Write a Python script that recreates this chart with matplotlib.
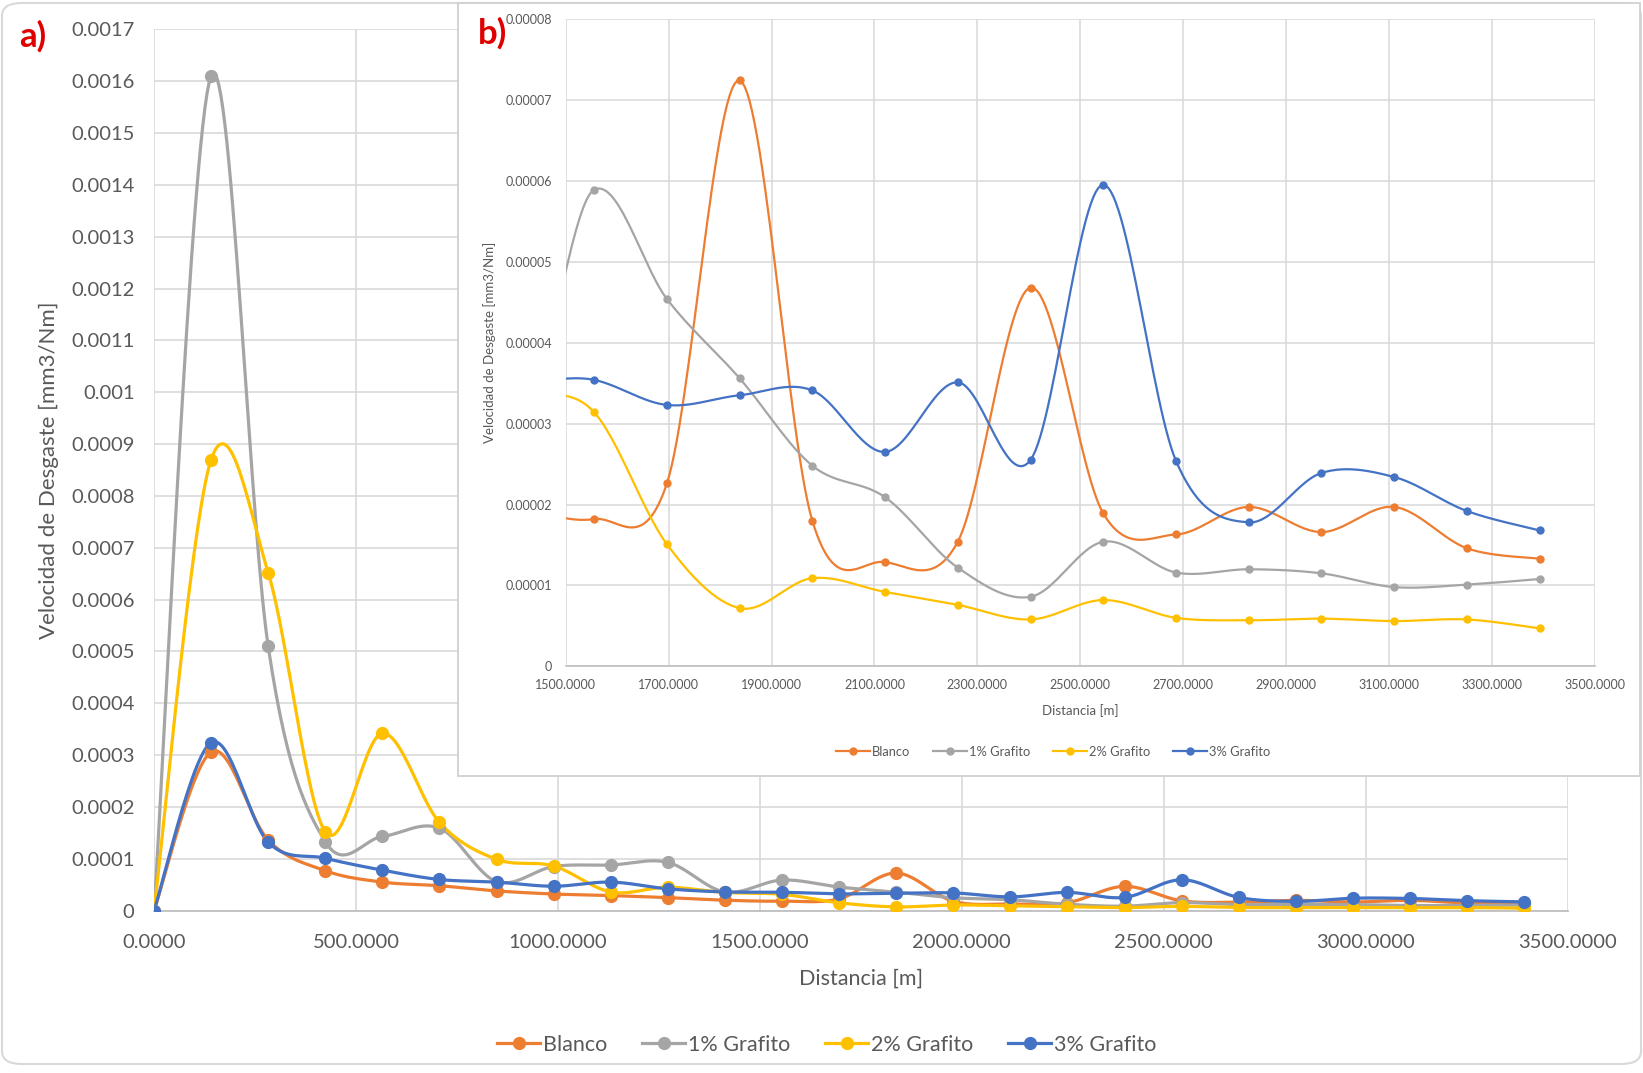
import numpy as np
import matplotlib
matplotlib.use("Agg")
import matplotlib.pyplot as plt
from matplotlib.lines import Line2D
from matplotlib.patches import FancyBboxPatch, Rectangle

plt.rcParams['font.family'] = ['Lato', 'DejaVu Sans']

# distance travelled at each measurement [m]
distancia = [0.0, 141.4, 282.7, 424.1, 565.5, 706.9, 848.2, 989.6, 1131.0,
             1272.3, 1413.7, 1555.1, 1696.5, 1837.8, 1979.2, 2120.6, 2261.9,
             2403.3, 2544.7, 2686.1, 2827.4, 2968.8, 3110.2, 3251.5, 3392.9]

# wear rate [mm3/Nm]
blanco = [0, 3.06e-4, 1.36e-4, 0.77e-4, 0.55e-4, 0.48e-4, 0.38e-4, 0.32e-4,
          0.29e-4, 0.25e-4, 0.20e-4, 1.82e-5, 2.26e-5, 7.24e-5, 1.80e-5,
          1.29e-5, 1.54e-5, 4.68e-5, 1.89e-5, 1.63e-5, 1.97e-5, 1.66e-5,
          1.97e-5, 1.46e-5, 1.33e-5]
grafito1 = [0, 1.61e-3, 5.10e-4, 1.33e-4, 1.43e-4, 1.59e-4, 0.56e-4, 0.85e-4,
            0.88e-4, 0.93e-4, 0.36e-4, 5.89e-5, 4.54e-5, 3.56e-5, 2.48e-5,
            2.09e-5, 1.22e-5, 0.86e-5, 1.54e-5, 1.16e-5, 1.20e-5, 1.15e-5,
            0.98e-5, 1.01e-5, 1.08e-5]
grafito2 = [0, 8.70e-4, 6.52e-4, 1.52e-4, 3.42e-4, 1.70e-4, 0.99e-4, 0.86e-4,
            0.36e-4, 0.45e-4, 0.35e-4, 3.14e-5, 1.51e-5, 0.72e-5, 1.09e-5,
            0.92e-5, 0.76e-5, 0.58e-5, 0.82e-5, 0.60e-5, 0.57e-5, 0.59e-5,
            0.56e-5, 0.58e-5, 0.47e-5]
grafito3 = [0, 3.24e-4, 1.32e-4, 1.01e-4, 0.78e-4, 0.60e-4, 0.55e-4, 0.47e-4,
            0.55e-4, 0.42e-4, 0.36e-4, 3.54e-5, 3.23e-5, 3.35e-5, 3.41e-5,
            2.65e-5, 3.51e-5, 2.55e-5, 5.95e-5, 2.54e-5, 1.78e-5, 2.39e-5,
            2.34e-5, 1.92e-5, 1.68e-5]

series = [("Blanco", blanco, "#ED7D31"),
          ("1% Grafito", grafito1, "#A5A5A5"),
          ("2% Grafito", grafito2, "#FFC000"),
          ("3% Grafito", grafito3, "#4472C4")]

TXT = "#595959"
GRID = "#d9d9d9"


def smooth(xs, ys, n=30):
    # Catmull-Rom style bezier through every point (like excel smoothed lines)
    xs = np.asarray(xs, float)
    ys = np.asarray(ys, float)
    px = np.concatenate([[xs[0]], xs, [xs[-1]]])
    py = np.concatenate([[ys[0]], ys, [ys[-1]]])
    t = np.linspace(0, 1, n)
    out_x, out_y = [], []
    for i in range(1, len(px) - 2):
        p0x, p1x, p2x, p3x = px[i - 1], px[i], px[i + 1], px[i + 2]
        p0y, p1y, p2y, p3y = py[i - 1], py[i], py[i + 1], py[i + 2]
        c1x, c1y = p1x + (p2x - p0x) / 6, p1y + (p2y - p0y) / 6
        c2x, c2y = p2x - (p3x - p1x) / 6, p2y - (p3y - p1y) / 6
        bx = (1-t)**3*p1x + 3*(1-t)**2*t*c1x + 3*(1-t)*t**2*c2x + t**3*p2x
        by = (1-t)**3*p1y + 3*(1-t)**2*t*c1y + 3*(1-t)*t**2*c2y + t**3*p2y
        out_x.append(bx)
        out_y.append(by)
    return np.concatenate(out_x), np.concatenate(out_y)


def general(v, dec):
    s = f"{v:.{dec}f}".rstrip('0').rstrip('.')
    return s if s else "0"


fig = plt.figure(figsize=(16.43, 10.73), dpi=100)
W, H = 1643, 1073

# ---- a) full test ----
ax = fig.add_axes([154 / W, 1 - 910.6 / H, 1413.5 / W, 881.3 / H])
for name, vals, col in series:
    sx, sy = smooth(distancia, vals)
    ax.plot(sx, sy, color=col, lw=2.3, solid_capstyle='round', zorder=3)
    ax.plot(distancia, vals, 'o', color=col, ms=8.5, zorder=4)

ax.set_xlim(0, 3500)
ax.set_ylim(0, 0.0017)
ax.set_xticks(np.arange(0, 3501, 500))
ax.set_yticks(np.arange(0, 0.00171, 0.0001))
ax.set_xticklabels([f"{v:.4f}" for v in ax.get_xticks()])
ax.set_yticklabels([general(v, 4) for v in ax.get_yticks()])
ax.tick_params(length=0, labelsize=14.5, colors=TXT)
ax.tick_params(axis='y', pad=14)
ax.tick_params(axis='x', pad=17)
ax.grid(True, color=GRID, lw=1.2)
ax.set_axisbelow(True)
for s in ['top', 'right', 'left']:
    ax.spines[s].set_visible(False)
ax.spines['bottom'].set_color("#bfbfbf")
ax.spines['bottom'].set_linewidth(1.3)
ax.set_xlabel("Distancia [m]", fontsize=15.5, color=TXT)
ax.set_ylabel("Velocidad de Desgaste [mm3/Nm]", fontsize=16, color=TXT)
ax.xaxis.set_label_coords(0.5, -0.0663)
ax.yaxis.set_label_coords(-0.0669, 0.5)
for t in ax.get_xticklabels() + ax.get_yticklabels():
    t.set_clip_on(False)

handles = [Line2D([], [], color=c, lw=2.3, marker='o', ms=8.5) for _, _, c in series]
fig.legend(handles, [s[0] for s in series], loc='center',
           bbox_to_anchor=(827 / W, 1 - 1044.6 / H), ncol=4, frameon=False,
           fontsize=15.5, labelcolor=TXT, handlelength=2.0,
           handletextpad=0.15, columnspacing=1.6)

fig.text(33 / W, 1 - 36 / H, "a)", color="#e00000", fontsize=25,
         fontweight='bold', ha='center', va='center')

# outer frame
fig.patches.append(FancyBboxPatch((2 / W, 1 - 1064 / H), 1639 / W, 1061 / H,
                                  boxstyle="round,pad=0,rounding_size=0.012",
                                  transform=fig.transFigure, fc='none',
                                  ec="#d9d9d9", lw=1.5, zorder=0.5))

# ---- b) zoom on the second half ----
fig.patches.append(Rectangle((458 / W, 1 - 776.4 / H), 1182 / W, 773.9 / H,
                             transform=fig.transFigure, fc='white',
                             ec="#d0d0d0", lw=1.3, zorder=1))

ax2 = fig.add_axes([565.8 / W, 1 - 666.4 / H, 1028.9 / W, 647.5 / H], zorder=2)
for name, vals, col in series:
    sx, sy = smooth(distancia, vals)
    ax2.plot(sx, sy, color=col, lw=1.6, zorder=3)
    ax2.plot(distancia, vals, 'o', color=col, ms=5, zorder=4)

ax2.set_xlim(1500, 3500)
ax2.set_ylim(0, 0.00008)
ax2.set_xticks(np.arange(1500, 3501, 200))
ax2.set_yticks(np.arange(0, 0.0000801, 0.00001))
ax2.set_xticklabels([f"{v:.4f}" for v in ax2.get_xticks()])
ax2.set_yticklabels([general(v, 5) for v in ax2.get_yticks()])
ax2.tick_params(length=0, labelsize=9, colors=TXT)
ax2.tick_params(axis='y', pad=10)
ax2.tick_params(axis='x', pad=9)
ax2.grid(True, color=GRID, lw=1.1)
ax2.set_axisbelow(True)
for s in ['top', 'right', 'left']:
    ax2.spines[s].set_visible(False)
ax2.spines['bottom'].set_color("#bfbfbf")
ax2.spines['bottom'].set_linewidth(1.2)
ax2.set_xlabel("Distancia [m]", fontsize=9.5, color=TXT)
ax2.set_ylabel("Velocidad de Desgaste [mm3/Nm]", fontsize=9.5, color=TXT)
ax2.xaxis.set_label_coords(0.5, -0.0576)
ax2.yaxis.set_label_coords(-0.0675, 0.5)

handles2 = [Line2D([], [], color=c, lw=1.6, marker='o', ms=5) for _, _, c in series]
leg2 = fig.legend(handles2, [s[0] for s in series], loc='center',
                  bbox_to_anchor=(1053 / W, 1 - 752 / H), ncol=4, frameon=False,
                  fontsize=9.3, labelcolor=TXT, handlelength=2.6,
                  handletextpad=0.15, columnspacing=1.8)
leg2.set_zorder(3)

fig.text(492 / W, 1 - 33 / H, "b)", color="#e00000", fontsize=25,
         fontweight='bold', ha='center', va='center', zorder=3)

fig.savefig("out.png", dpi=100)
